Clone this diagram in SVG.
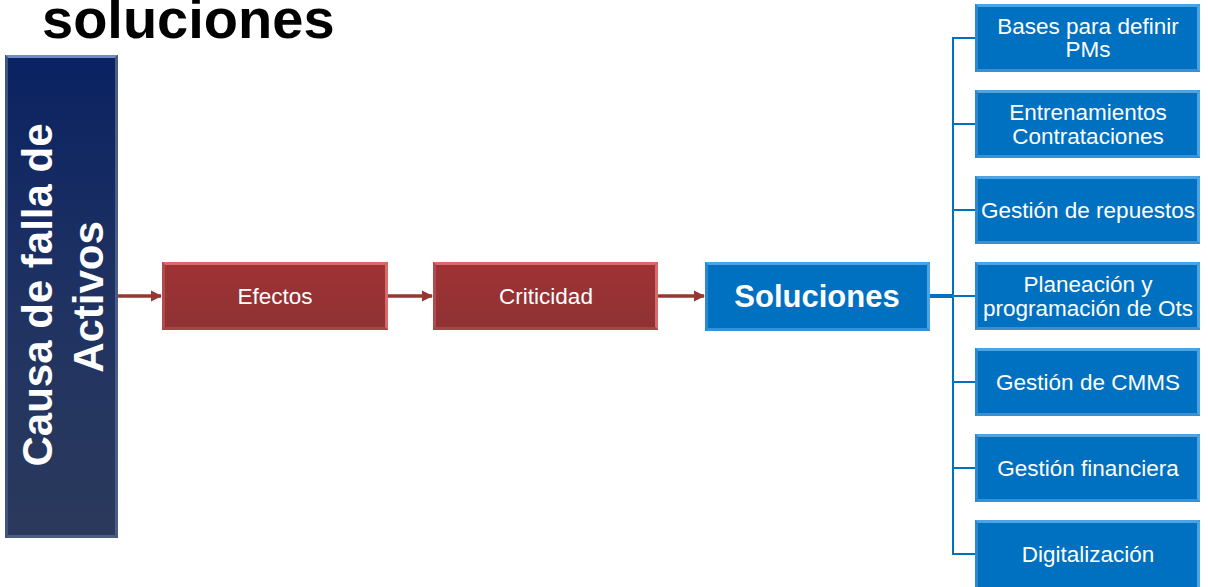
<svg xmlns="http://www.w3.org/2000/svg" width="1208" height="587" viewBox="0 0 1208 587">
  <defs>
    <linearGradient id="navy" x1="0" y1="0" x2="0" y2="1">
      <stop offset="0" stop-color="#0a2262"/>
      <stop offset="0.5" stop-color="#1f3262"/>
      <stop offset="1" stop-color="#2b3a5c"/>
    </linearGradient>
    <linearGradient id="red" x1="0" y1="0" x2="0" y2="1">
      <stop offset="0" stop-color="#a03234"/>
      <stop offset="1" stop-color="#8e3234"/>
    </linearGradient>
    <marker id="arrow" viewBox="0 0 10 10" refX="9" refY="5" markerWidth="3.2" markerHeight="3.4" orient="auto" markerUnits="strokeWidth">
      <path d="M0,0 L10,5 L0,10 Z" fill="#953735"/>
    </marker>
  </defs>
  <style>
    .title { font-family: "Liberation Sans", Arial, sans-serif; font-weight: bold; font-size: 56px; fill: #000; }
    .vt { font-family: "Liberation Sans", Arial, sans-serif; font-weight: bold; font-size: 42px; fill: #fff; text-anchor: middle; }
    .lbl { font-family: "Liberation Sans", Arial, sans-serif; font-size: 22.5px; fill: #fff; text-anchor: middle; }
    .big { font-family: "Liberation Sans", Arial, sans-serif; font-weight: bold; font-size: 31px; fill: #fff; text-anchor: middle; }
    .redbase { fill: url(#red); }
    .redhi { fill: #d86a6a; }
    .redside { fill: #b04a4c; }
    .redlo { fill: #a84446; }
    .bluebase { fill: #0070c0; }
    .bluehi { fill: #4ea4e2; }
    .blueside { fill: #2a88cf; }
    .bluelo { fill: #3a90d0; }
    .arrow { stroke: #953735; stroke-width: 3.5; fill: none; marker-end: url(#arrow); }
    .tree { stroke: #0070c0; stroke-width: 2; fill: none; }
  </style>

  <text class="title" x="42" y="38">soluciones</text>

  <!-- vertical root box -->
  <g id="causa">
    <rect x="5" y="55" width="113" height="483" fill="url(#navy)"/>
    <polygon points="5,55 118,55 115,58 8,58" fill="#6f8cc4"/>
    <polygon points="5,55 8,58 8,535 5,538" fill="#3e5486"/>
    <polygon points="118,55 118,538 115,535 115,58" fill="#4a5c88"/>
    <polygon points="5,538 8,535 115,535 118,538" fill="#4d5d82"/>
    <text class="vt" transform="translate(52,295) rotate(-90)">Causa de falla de</text>
    <text class="vt" transform="translate(103,297) rotate(-90)">Activos</text>
  </g>

  <!-- connectors -->
  <g id="connectors">
    <line class="arrow" x1="118" y1="296" x2="161" y2="296"/>
    <line class="arrow" x1="388" y1="296" x2="432" y2="296"/>
    <line class="arrow" x1="658" y1="296" x2="704" y2="296"/>
    <line x1="930" y1="296" x2="954" y2="296" stroke="#0070c0" stroke-width="4"/>
    <path class="tree" d="M975,38 H953 V554 H975"/>
    <line class="tree" x1="953" y1="124" x2="975" y2="124"/>
    <line class="tree" x1="953" y1="210" x2="975" y2="210"/>
    <line class="tree" x1="953" y1="296" x2="975" y2="296"/>
    <line class="tree" x1="953" y1="382" x2="975" y2="382"/>
    <line class="tree" x1="953" y1="468" x2="975" y2="468"/>
  </g>

  <!-- red stage boxes -->
  <g id="efectos">
    <rect class="redbase" x="162" y="262" width="226" height="68"/>
    <polygon class="redhi" points="162,262 388,262 385,265 165,265"/>
    <polygon class="redside" points="162,262 165,265 165,327 162,330"/>
    <polygon class="redhi" points="388,262 388,330 385,327 385,265"/>
    <polygon class="redlo" points="162,330 165,327 385,327 388,330"/>
    <text class="lbl" x="275" y="304">Efectos</text>
  </g>
  <g id="criticidad">
    <rect class="redbase" x="433" y="262" width="225" height="68"/>
    <polygon class="redhi" points="433,262 658,262 655,265 436,265"/>
    <polygon class="redside" points="433,262 436,265 436,327 433,330"/>
    <polygon class="redhi" points="658,262 658,330 655,327 655,265"/>
    <polygon class="redlo" points="433,330 436,327 655,327 658,330"/>
    <text class="lbl" x="546" y="304">Criticidad</text>
  </g>

  <!-- blue hub box -->
  <g id="soluciones">
    <rect class="bluebase" x="705" y="262" width="225" height="69"/>
    <polygon class="bluehi" points="705,262 930,262 927,265 708,265"/>
    <polygon class="blueside" points="705,262 708,265 708,328 705,331"/>
    <polygon class="bluehi" points="930,262 930,331 927,328 927,265"/>
    <polygon class="bluelo" points="705,331 708,328 927,328 930,331"/>
    <text class="big" x="817" y="307">Soluciones</text>
  </g>

  <!-- solution branches -->
  <g id="bases">
    <rect class="bluebase" x="975" y="4" width="225" height="68"/>
    <polygon class="bluehi" points="975,4 1200,4 1197,7 978,7"/>
    <polygon class="blueside" points="975,4 978,7 978,69 975,72"/>
    <polygon class="bluehi" points="1200,4 1200,72 1197,69 1197,7"/>
    <polygon class="bluelo" points="975,72 978,69 1197,69 1200,72"/>
    <text class="lbl" x="1088" y="34">Bases para definir</text>
    <text class="lbl" x="1088" y="57">PMs</text>
  </g>
  <g id="entrenamientos">
    <rect class="bluebase" x="975" y="90" width="225" height="68"/>
    <polygon class="bluehi" points="975,90 1200,90 1197,93 978,93"/>
    <polygon class="blueside" points="975,90 978,93 978,155 975,158"/>
    <polygon class="bluehi" points="1200,90 1200,158 1197,155 1197,93"/>
    <polygon class="bluelo" points="975,158 978,155 1197,155 1200,158"/>
    <text class="lbl" x="1088" y="120">Entrenamientos</text>
    <text class="lbl" x="1088" y="144">Contrataciones</text>
  </g>
  <g id="repuestos">
    <rect class="bluebase" x="975" y="176" width="225" height="68"/>
    <polygon class="bluehi" points="975,176 1200,176 1197,179 978,179"/>
    <polygon class="blueside" points="975,176 978,179 978,241 975,244"/>
    <polygon class="bluehi" points="1200,176 1200,244 1197,241 1197,179"/>
    <polygon class="bluelo" points="975,244 978,241 1197,241 1200,244"/>
    <text class="lbl" x="1088" y="218">Gestión de repuestos</text>
  </g>
  <g id="planeacion">
    <rect class="bluebase" x="975" y="262" width="225" height="68"/>
    <polygon class="bluehi" points="975,262 1200,262 1197,265 978,265"/>
    <polygon class="blueside" points="975,262 978,265 978,327 975,330"/>
    <polygon class="bluehi" points="1200,262 1200,330 1197,327 1197,265"/>
    <polygon class="bluelo" points="975,330 978,327 1197,327 1200,330"/>
    <text class="lbl" x="1088" y="292">Planeación y</text>
    <text class="lbl" x="1088" y="316">programación de Ots</text>
  </g>
  <g id="cmms">
    <rect class="bluebase" x="975" y="348" width="225" height="68"/>
    <polygon class="bluehi" points="975,348 1200,348 1197,351 978,351"/>
    <polygon class="blueside" points="975,348 978,351 978,413 975,416"/>
    <polygon class="bluehi" points="1200,348 1200,416 1197,413 1197,351"/>
    <polygon class="bluelo" points="975,416 978,413 1197,413 1200,416"/>
    <text class="lbl" x="1088" y="390">Gestión de CMMS</text>
  </g>
  <g id="financiera">
    <rect class="bluebase" x="975" y="434" width="225" height="68"/>
    <polygon class="bluehi" points="975,434 1200,434 1197,437 978,437"/>
    <polygon class="blueside" points="975,434 978,437 978,499 975,502"/>
    <polygon class="bluehi" points="1200,434 1200,502 1197,499 1197,437"/>
    <polygon class="bluelo" points="975,502 978,499 1197,499 1200,502"/>
    <text class="lbl" x="1088" y="476">Gestión financiera</text>
  </g>
  <g id="digitalizacion">
    <rect class="bluebase" x="975" y="520" width="225" height="68"/>
    <polygon class="bluehi" points="975,520 1200,520 1197,523 978,523"/>
    <polygon class="blueside" points="975,520 978,523 978,588 975,588"/>
    <polygon class="bluehi" points="1200,520 1200,588 1197,588 1197,523"/>
    <text class="lbl" x="1088" y="562">Digitalización</text>
  </g>
</svg>
